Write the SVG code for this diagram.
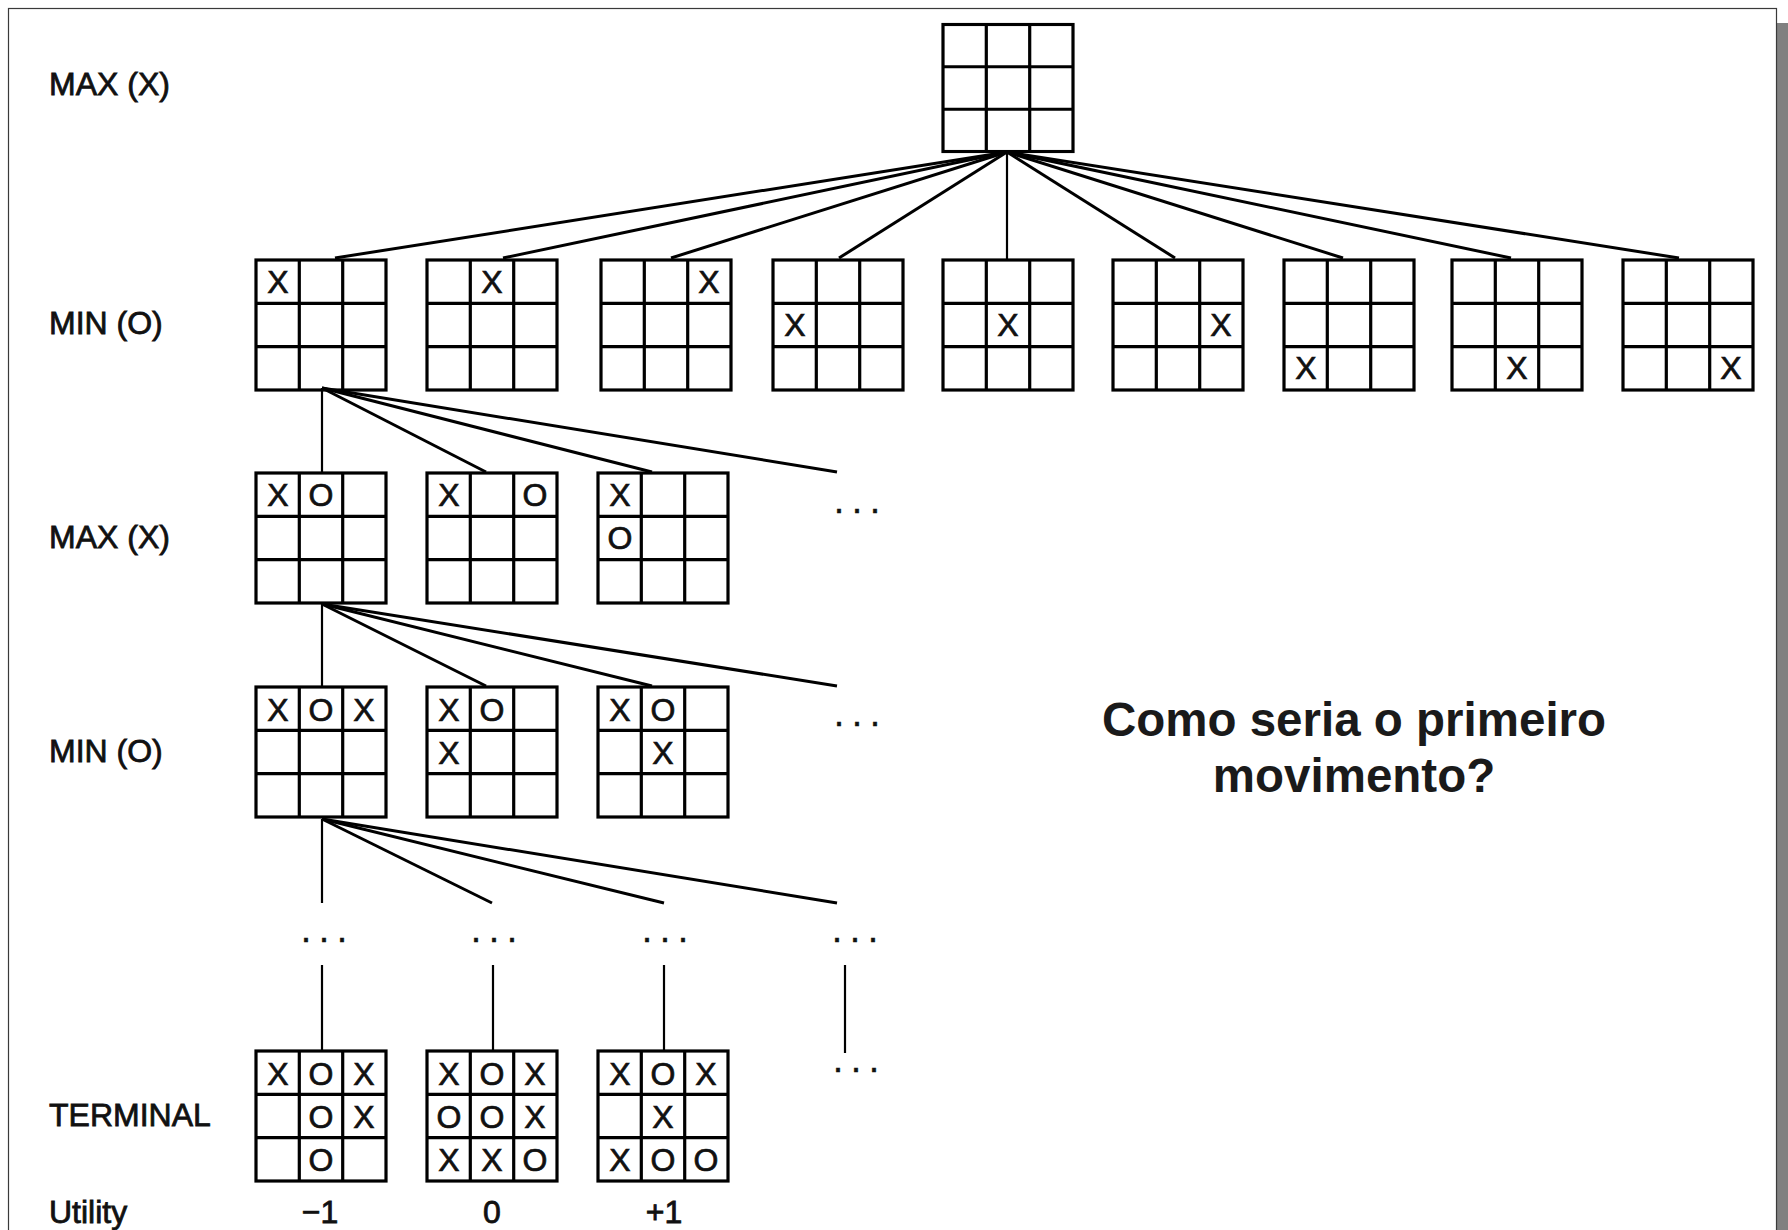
<svg xmlns="http://www.w3.org/2000/svg" xmlns:xlink="http://www.w3.org/1999/xlink" width="1788" height="1230" viewBox="0 0 1788 1230">
  <style>
    .page { fill: #ffffff; stroke: #3a3a3a; stroke-width: 1.2; }
    .shadow { fill: #808080; }
    .grid { fill: none; stroke: #000; stroke-width: 3.2; }
    .mark { font-family: "Liberation Sans", Arial, sans-serif; font-size: 32px; fill: #111; stroke: #111; stroke-width: 0.7; text-anchor: middle; }
    .label { font-family: "Liberation Sans", Arial, sans-serif; font-size: 32px; fill: #111; stroke: #111; stroke-width: 0.8; }
    .util { font-family: "Liberation Sans", Arial, sans-serif; font-size: 32px; fill: #111; stroke: #111; stroke-width: 0.8; text-anchor: middle; }
    .dots { font-family: "Liberation Sans", Arial, sans-serif; font-size: 36px; fill: #111; stroke: #111; stroke-width: 0.5; letter-spacing: 8px; }
    .edge { fill: none; stroke: #000; stroke-width: 3; stroke-linecap: butt; }
    .stem { fill: none; stroke: #000; stroke-width: 2.2; }
    .question { font-family: "Liberation Sans", Arial, sans-serif; font-size: 47.5px; font-weight: bold; fill: #1a1a1a; text-anchor: middle; }
  </style>
  <defs>
    <!-- empty 3x3 tic-tac-toe board, 130 x 130 -->
    <g id="board">
      <rect class="grid" x="0" y="0" width="130" height="130"/>
      <line class="grid" x1="43.3" y1="0" x2="43.3" y2="130"/>
      <line class="grid" x1="86.7" y1="0" x2="86.7" y2="130"/>
      <line class="grid" x1="0" y1="43.3" x2="130" y2="43.3"/>
      <line class="grid" x1="0" y1="86.7" x2="130" y2="86.7"/>
    </g>
  </defs>

  <!-- slide page with drop shadow -->
  <rect x="0" y="0" width="1788" height="1230" fill="#ffffff"/>
  <rect class="shadow" x="1777" y="23" width="11" height="1207"/>
  <rect class="page" x="8.5" y="8.5" width="1768" height="1240"/>

  <!-- level labels -->
  <g id="labels">
    <text class="label" x="49" y="95">MAX (X)</text>
    <text class="label" x="49" y="334">MIN (O)</text>
    <text class="label" x="49" y="548">MAX (X)</text>
    <text class="label" x="49" y="762">MIN (O)</text>
    <text class="label" x="49" y="1126">TERMINAL</text>
    <text class="label" x="49" y="1223">Utility</text>
  </g>

  <!-- connectors -->
  <g id="connectors">
    <!-- root to first MIN level -->
    <line class="edge" x1="1007" y1="152" x2="335" y2="258"/>
    <line class="edge" x1="1007" y1="152" x2="503" y2="258"/>
    <line class="edge" x1="1007" y1="152" x2="671" y2="258"/>
    <line class="edge" x1="1007" y1="152" x2="839" y2="258"/>
    <line class="stem" x1="1007" y1="152" x2="1007" y2="259"/>
    <line class="edge" x1="1007" y1="152" x2="1175" y2="258"/>
    <line class="edge" x1="1007" y1="152" x2="1343" y2="258"/>
    <line class="edge" x1="1007" y1="152" x2="1511" y2="258"/>
    <line class="edge" x1="1007" y1="152" x2="1679" y2="258"/>
    <!-- MIN to MAX -->
    <line class="stem" x1="322" y1="388" x2="322" y2="473"/>
    <line class="edge" x1="322" y1="388" x2="486" y2="472"/>
    <line class="edge" x1="322" y1="388" x2="652" y2="472"/>
    <line class="edge" x1="322" y1="388" x2="837" y2="472"/>
    <!-- MAX to MIN -->
    <line class="stem" x1="322" y1="604" x2="322" y2="687"/>
    <line class="edge" x1="322" y1="604" x2="486" y2="686"/>
    <line class="edge" x1="322" y1="604" x2="652" y2="686"/>
    <line class="edge" x1="322" y1="604" x2="837" y2="686"/>
    <!-- MIN to deeper levels -->
    <line class="stem" x1="322" y1="819" x2="322" y2="903"/>
    <line class="edge" x1="322" y1="819" x2="492" y2="903"/>
    <line class="edge" x1="322" y1="819" x2="664" y2="903"/>
    <line class="edge" x1="322" y1="819" x2="837" y2="903"/>
    <!-- down to terminal states -->
    <line class="stem" x1="322" y1="965" x2="322" y2="1051"/>
    <line class="stem" x1="493" y1="965" x2="493" y2="1051"/>
    <line class="stem" x1="664" y1="965" x2="664" y2="1051"/>
    <line class="stem" x1="845" y1="965" x2="845" y2="1053"/>
  </g>

  <!-- ellipses for omitted branches -->
  <g id="ellipses">
    <text class="dots" x="834" y="513">...</text>
    <text class="dots" x="834" y="726">...</text>
    <text class="dots" x="301" y="942">...</text>
    <text class="dots" x="471" y="942">...</text>
    <text class="dots" x="642" y="942">...</text>
    <text class="dots" x="832" y="942">...</text>
    <text class="dots" x="833" y="1072">...</text>
  </g>

  <!-- root: empty board -->
  <g id="root">
    <use xlink:href="#board" href="#board" transform="translate(943 24.5) scale(1 0.977)"/>
  </g>

  <!-- MIN (O) level: the nine first moves of X -->
  <g id="min1-a">
    <use xlink:href="#board" href="#board" x="256" y="260"/>
    <text class="mark" x="278" y="293">X</text>
  </g>
  <g id="min1-b">
    <use xlink:href="#board" href="#board" x="427" y="260"/>
    <text class="mark" x="492" y="293">X</text>
  </g>
  <g id="min1-c">
    <use xlink:href="#board" href="#board" x="601" y="260"/>
    <text class="mark" x="709" y="293">X</text>
  </g>
  <g id="min1-d">
    <use xlink:href="#board" href="#board" x="773" y="260"/>
    <text class="mark" x="795" y="336">X</text>
  </g>
  <g id="min1-e">
    <use xlink:href="#board" href="#board" x="943" y="260"/>
    <text class="mark" x="1008" y="336">X</text>
  </g>
  <g id="min1-f">
    <use xlink:href="#board" href="#board" x="1113" y="260"/>
    <text class="mark" x="1221" y="336">X</text>
  </g>
  <g id="min1-g">
    <use xlink:href="#board" href="#board" x="1284" y="260"/>
    <text class="mark" x="1306" y="379">X</text>
  </g>
  <g id="min1-h">
    <use xlink:href="#board" href="#board" x="1452" y="260"/>
    <text class="mark" x="1517" y="379">X</text>
  </g>
  <g id="min1-i">
    <use xlink:href="#board" href="#board" x="1623" y="260"/>
    <text class="mark" x="1731" y="379">X</text>
  </g>

  <!-- MAX (X) level -->
  <g id="max2-a">
    <use xlink:href="#board" href="#board" x="256" y="473"/>
    <text class="mark" x="278" y="506">X</text>
    <text class="mark" x="321" y="506">O</text>
  </g>
  <g id="max2-b">
    <use xlink:href="#board" href="#board" x="427" y="473"/>
    <text class="mark" x="449" y="506">X</text>
    <text class="mark" x="535" y="506">O</text>
  </g>
  <g id="max2-c">
    <use xlink:href="#board" href="#board" x="598" y="473"/>
    <text class="mark" x="620" y="506">X</text>
    <text class="mark" x="620" y="549">O</text>
  </g>

  <!-- MIN (O) level -->
  <g id="min3-a">
    <use xlink:href="#board" href="#board" x="256" y="687"/>
    <text class="mark" x="278" y="721">X</text>
    <text class="mark" x="321" y="721">O</text>
    <text class="mark" x="364" y="721">X</text>
  </g>
  <g id="min3-b">
    <use xlink:href="#board" href="#board" x="427" y="687"/>
    <text class="mark" x="449" y="721">X</text>
    <text class="mark" x="492" y="721">O</text>
    <text class="mark" x="449" y="764">X</text>
  </g>
  <g id="min3-c">
    <use xlink:href="#board" href="#board" x="598" y="687"/>
    <text class="mark" x="620" y="721">X</text>
    <text class="mark" x="663" y="721">O</text>
    <text class="mark" x="663" y="764">X</text>
  </g>

  <!-- terminal states -->
  <g id="terminal-a">
    <use xlink:href="#board" href="#board" x="256" y="1051"/>
    <text class="mark" x="278" y="1085">X</text>
    <text class="mark" x="321" y="1085">O</text>
    <text class="mark" x="364" y="1085">X</text>
    <text class="mark" x="321" y="1128">O</text>
    <text class="mark" x="364" y="1128">X</text>
    <text class="mark" x="321" y="1171">O</text>
  </g>
  <g id="terminal-b">
    <use xlink:href="#board" href="#board" x="427" y="1051"/>
    <text class="mark" x="449" y="1085">X</text>
    <text class="mark" x="492" y="1085">O</text>
    <text class="mark" x="535" y="1085">X</text>
    <text class="mark" x="449" y="1128">O</text>
    <text class="mark" x="492" y="1128">O</text>
    <text class="mark" x="535" y="1128">X</text>
    <text class="mark" x="449" y="1171">X</text>
    <text class="mark" x="492" y="1171">X</text>
    <text class="mark" x="535" y="1171">O</text>
  </g>
  <g id="terminal-c">
    <use xlink:href="#board" href="#board" x="598" y="1051"/>
    <text class="mark" x="620" y="1085">X</text>
    <text class="mark" x="663" y="1085">O</text>
    <text class="mark" x="706" y="1085">X</text>
    <text class="mark" x="663" y="1128">X</text>
    <text class="mark" x="620" y="1171">X</text>
    <text class="mark" x="663" y="1171">O</text>
    <text class="mark" x="706" y="1171">O</text>
  </g>

  <!-- utility values -->
  <g id="utilities">
    <text class="util" x="320" y="1223">−1</text>
    <text class="util" x="492" y="1223">0</text>
    <text class="util" x="664" y="1223">+1</text>
  </g>

  <!-- question -->
  <g id="question">
    <text class="question" x="1354" y="736">Como seria o primeiro</text>
    <text class="question" x="1354" y="792">movimento?</text>
  </g>
</svg>
